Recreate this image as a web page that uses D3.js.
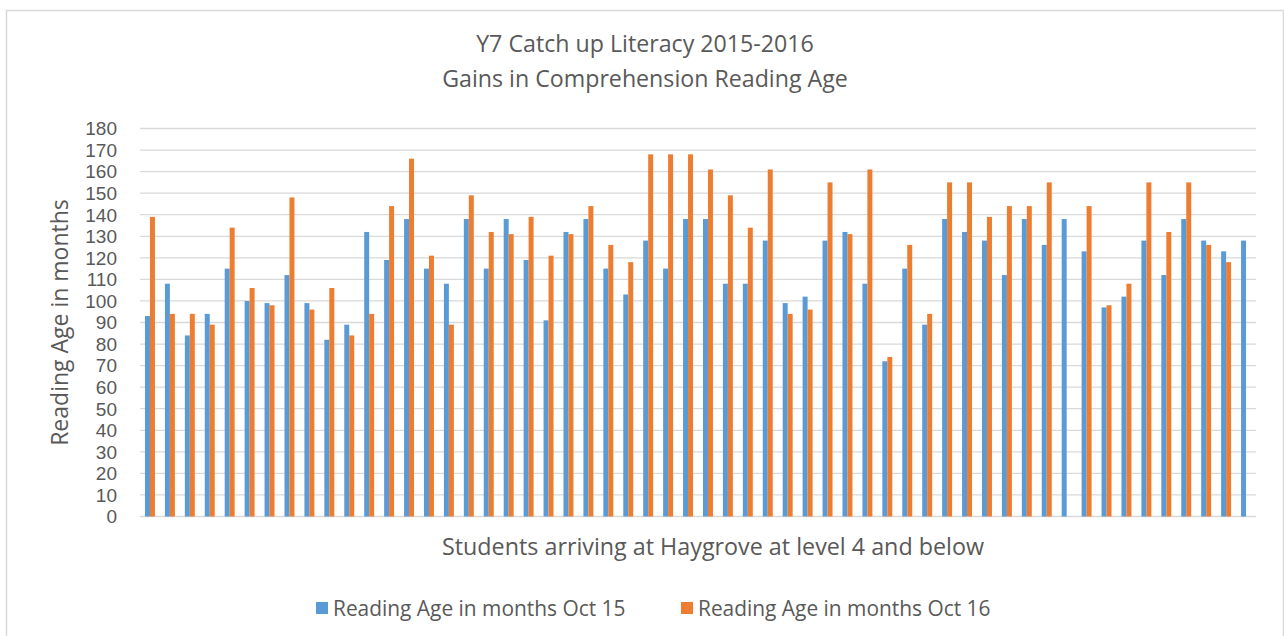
<!DOCTYPE html>
<html>
<head>
<meta charset="utf-8">
<script src="https://cdn.jsdelivr.net/npm/d3@7"></script>
<style>
  body { margin: 0; background: #fff; }
  svg text { font-family: "Open Sans", "Noto Sans", sans-serif; fill: #595959; }
</style>
</head>
<body>
<div id="chart"></div>
<script>
// Reading ages (months), one entry per student
const oct15 = [93, 108, 84, 94, 115, 100, 99, 112, 99, 82,
               89, 132, 119, 138, 115, 108, 138, 115, 138, 119,
               91, 132, 138, 115, 103, 128, 115, 138, 138, 108,
               108, 128, 99, 102, 128, 132, 108, 72, 115, 89,
               138, 132, 128, 112, 138, 126, 138, 123, 97, 102,
               128, 112, 138, 128, 123, 128];
const oct16 = [139, 94, 94, 89, 134, 106, 98, 148, 96, 106,
               84, 94, 144, 166, 121, 89, 149, 132, 131, 139,
               121, 131, 144, 126, 118, 168, 168, 168, 161, 149,
               134, 161, 94, 96, 155, 131, 161, 74, 126, 94,
               155, 155, 139, 144, 144, 155, null, 144, 98, 108,
               155, 132, 155, 126, 118, null];
const seriesNames = ["Reading Age in months Oct 15", "Reading Age in months Oct 16"];
const seriesColors = ["#5B9BD5", "#ED7D31"];
const yTicks = [0, 10, 20, 30, 40, 50, 60, 70, 80, 90, 100, 110, 120, 130, 140, 150, 160, 170, 180];
const titleLines = ["Y7 Catch up Literacy 2015-2016", "Gains in Comprehension Reading Age"];

const width = 1284, height = 636;
const margin = { top: 128.5, right: 28, bottom: 119.5, left: 140 };

const students = oct15.map((d, i) => i + 1);
const series = [oct15, oct16];

const svg = d3.select("#chart").append("svg")
    .attr("width", width)
    .attr("height", height);

// cadre du graphique
svg.append("rect")
    .attr("x", 6.5).attr("y", 10.5)
    .attr("width", 1277).attr("height", 660)
    .attr("fill", "none")
    .attr("stroke", "#d9d9d9")
    .attr("stroke-width", 1.5);

const x0 = d3.scaleBand()
    .domain(students)
    .range([margin.left, width - margin.right])
    .padding(0);

const x1 = d3.scaleBand()
    .domain([0, 1])
    .range([0, x0.bandwidth()])
    .paddingInner(0)
    .paddingOuter(1);

const y = d3.scaleLinear()
    .domain([0, 180])
    .range([height - margin.bottom, margin.top]);

// grille horizontale
svg.append("g")
    .selectAll("line")
    .data(yTicks)
    .enter().append("line")
    .attr("x1", margin.left)
    .attr("x2", width - margin.right)
    .attr("y1", d => y(d))
    .attr("y2", d => y(d))
    .attr("stroke", "#d9d9d9")
    .attr("stroke-width", 1.3);

// labels axe Y (police compacte pour ne pas se chevaucher)
svg.append("g")
    .selectAll("text")
    .data(yTicks)
    .enter().append("text")
    .attr("x", 117)
    .attr("y", d => y(d))
    .attr("dy", "0.36em")
    .attr("text-anchor", "end")
    .style("font-family", "'Liberation Sans', Arial, sans-serif")
    .style("font-size", "19px")
    .text(d => d);

// barres
const groups = svg.append("g")
    .selectAll("g")
    .data(students)
    .enter().append("g")
    .attr("transform", d => `translate(${x0(d)},0)`);

groups.selectAll("rect")
    .data((d, i) => series.map((s, k) => ({ k: k, v: s[i] })).filter(e => e.v != null))
    .enter().append("rect")
    .attr("x", d => x1(d.k))
    .attr("width", x1.bandwidth())
    .attr("y", d => y(d.v))
    .attr("height", d => y(0) - y(d.v))
    .attr("fill", d => seriesColors[d.k]);

// titre
svg.append("g")
    .selectAll("text")
    .data(titleLines)
    .enter().append("text")
    .attr("x", 645)
    .attr("y", (d, i) => 52 + i * 35)
    .attr("text-anchor", "middle")
    .style("font-size", "23.2px")
    .text(d => d);

// titre axe Y
svg.append("text")
    .attr("transform", `translate(68,${(y(0) + y(180)) / 2}) rotate(-90)`)
    .attr("text-anchor", "middle")
    .style("font-size", "23px")
    .text("Reading Age in months");

// titre axe X
svg.append("text")
    .attr("x", 713)
    .attr("y", 555)
    .attr("text-anchor", "middle")
    .style("font-size", "23.3px")
    .text("Students arriving at Haygrove at level 4 and below");

// légende
const legendX = [316, 681];
const legend = svg.append("g")
    .selectAll("g")
    .data(seriesNames)
    .enter().append("g")
    .attr("transform", (d, i) => `translate(${legendX[i]},602)`);

legend.append("rect")
    .attr("width", 12)
    .attr("height", 12)
    .attr("fill", (d, i) => seriesColors[i]);

legend.append("text")
    .attr("x", 17)
    .attr("y", 14)
    .style("font-size", "20.9px")
    .text(d => d);
</script>
</body>
</html>
